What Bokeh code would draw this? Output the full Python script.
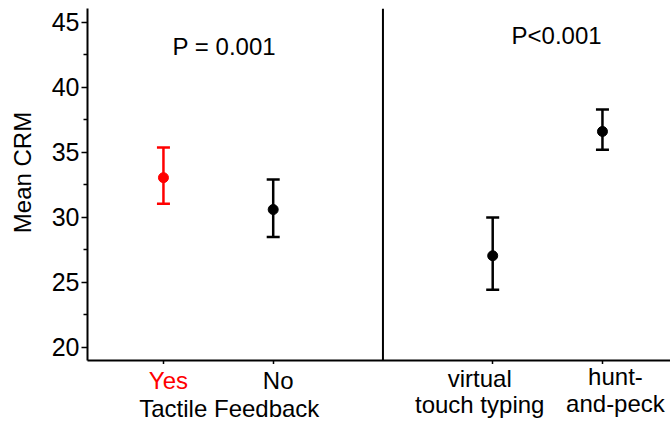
import math
from bokeh.plotting import figure
from bokeh.layouts import row, column
from bokeh.models import (ColumnDataSource, Whisker, TeeHead, Span, Label,
                          FixedTicker, Range1d)
from bokeh.core.properties import value
from bokeh.embed import file_html
from bokeh.resources import INLINE

# ---- data ----
categories = ["Yes", "No", "virtual touch typing", "hunt-and-peck"]
groups = ["Tactile Feedback", "Tactile Feedback", "Typing Style", "Typing Style"]
mean_crm = [33.05, 30.6, 27.05, 36.6]
ci_upper = [35.37, 32.9, 29.98, 38.28]
ci_lower = [31.05, 28.5, 24.44, 35.2]
point_colors = ["#ff0000", "#000000", "#000000", "#000000"]
tick_label_lines = [["Yes"], ["No"], ["virtual", "touch typing"], ["hunt-", "and-peck"]]
group_titles = ["Tactile Feedback", ""]
p_texts = ["P = 0.001", "P<0.001"]
y_ticks = [20, 25, 30, 35, 40, 45]
y_title = "Mean CRM"

FONT = "Liberation Sans"
FS = "24px"
SHIFT = 9  # px correction for the rendered text baseline

# slot positions: one empty slot between groups
group_order = list(dict.fromkeys(groups))
xs = [i + group_order.index(g) for i, g in enumerate(groups)]
separators = [(xs[i] + xs[i + 1]) / 2 for i in range(len(xs) - 1) if groups[i] != groups[i + 1]]

YLAB_W = 40
TOTAL_W = 670
TOTAL_H = 421
MAIN_H = 364
LAB_H = TOTAL_H - MAIN_H

x_range = Range1d(-0.692, 4.62)

p = figure(width=TOTAL_W - YLAB_W, height=MAIN_H,
           x_range=x_range, y_range=Range1d(19.0, 46.05),
           output_backend="svg", toolbar_location=None,
           min_border_left=87 - YLAB_W, min_border_right=0, min_border_top=8, min_border_bottom=4)
p.outline_line_color = None
p.xgrid.visible = False
p.ygrid.visible = False

# y axis
ya = p.yaxis[0]
ya.ticker = FixedTicker(ticks=y_ticks, minor_ticks=[t + 2.5 for t in y_ticks[:-1]])
ya.axis_line_width = 2
ya.axis_line_color = "black"
ya.major_tick_line_width = 1.5
ya.minor_tick_line_width = 1.5
ya.major_tick_out = 6
ya.major_tick_in = 0
ya.minor_tick_out = 4
ya.minor_tick_in = 0
ya.major_label_standoff = 2
ya.major_label_text_font = FONT
ya.major_label_text_font_size = "25px"
ya.major_label_text_color = "black"

# x axis (ticks only; labels drawn in the strip below)
xa = p.xaxis[0]
xa.ticker = FixedTicker(ticks=xs)
xa.major_label_overrides = {x: "" for x in xs}
xa.major_label_text_font_size = "0px"
xa.major_label_standoff = 0
xa.axis_line_width = 2
xa.axis_line_color = "black"
xa.major_tick_line_width = 1.5
xa.major_tick_out = 4
xa.major_tick_in = 0
xa.minor_tick_line_color = None

# separator between groups
for s in separators:
    p.add_layout(Span(location=s, dimension="height", line_color="black", line_width=2))

# error bars
for col in dict.fromkeys(point_colors):
    idx = [i for i, c in enumerate(point_colors) if c == col]
    src = ColumnDataSource(dict(x=[xs[i] for i in idx],
                                upper=[ci_upper[i] for i in idx],
                                lower=[ci_lower[i] for i in idx]))
    w = Whisker(base="x", upper="upper", lower="lower", source=src, dimension="height",
                line_color=col, line_width=2.5,
                upper_head=TeeHead(size=13, line_color=col, line_width=2.5),
                lower_head=TeeHead(size=13, line_color=col, line_width=2.5))
    p.add_layout(w)

src_pts = ColumnDataSource(dict(x=xs, y=mean_crm, color=point_colors))
p.scatter("x", "y", source=src_pts, size=10, color="color")

# p-values
p_y = [42.44, 43.28]
p_dx = [6, 9]
for gi, g in enumerate(group_order):
    gx = [xs[i] for i, gg in enumerate(groups) if gg == g]
    cx = sum(gx) / len(gx)
    p.add_layout(Label(x=cx, y=p_y[gi], x_offset=p_dx[gi], y_offset=SHIFT, text=p_texts[gi],
                       text_font=FONT, text_font_size=FS, text_color="black",
                       text_align="center", text_baseline="alphabetic"))

# ---- strip below: category labels and group title ----
lab = figure(width=TOTAL_W - YLAB_W, height=LAB_H, x_range=x_range,
             y_range=Range1d(0, LAB_H), output_backend="svg", toolbar_location=None,
             x_axis_location=None, y_axis_location=None,
             min_border_left=87 - YLAB_W, min_border_right=0, min_border_top=0, min_border_bottom=0)
lab.outline_line_color = None
lab.grid.visible = False

label_dx = [5, 5, -13, 13]
line_base = [[389], [389], [387, 413], [385, 412]]   # baselines, px from page top
lx, ly, lt, lc, lo = [], [], [], [], []
for i, lines in enumerate(tick_label_lines):
    for j, txt in enumerate(lines):
        lx.append(xs[i]); ly.append(TOTAL_H - line_base[i][j] + SHIFT); lt.append(txt)
        lc.append(point_colors[i]); lo.append(label_dx[i])
lab.text(x=lx, y=ly, text=lt, text_color=lc, x_offset=lo, text_font=value(FONT),
         text_font_size=FS, text_align="center", text_baseline="alphabetic")

title_dx = [11, 0]
for gi, g in enumerate(group_order):
    if group_titles[gi]:
        gx = [xs[i] for i, gg in enumerate(groups) if gg == g]
        cx = sum(gx) / len(gx)
        lab.text(x=[cx], y=[TOTAL_H - 417 + SHIFT], text=[group_titles[gi]], x_offset=title_dx[gi],
                 text_color="black", text_font=value(FONT), text_font_size=FS,
                 text_align="center", text_baseline="alphabetic")

# ---- strip on the left: y-axis title ----
ylab = figure(width=YLAB_W, height=TOTAL_H, x_range=Range1d(0, YLAB_W),
              y_range=Range1d(0, TOTAL_H), output_backend="svg", toolbar_location=None,
              x_axis_location=None, y_axis_location=None,
              min_border_left=0, min_border_right=0, min_border_top=0, min_border_bottom=0)
ylab.outline_line_color = None
ylab.grid.visible = False
ylab.text(x=[29 - 7], y=[TOTAL_H - 172], text=[y_title], angle=math.pi / 2,
          text_color="black", text_font=value(FONT), text_font_size=FS,
          text_align="center", text_baseline="alphabetic")

layout = row(ylab, column(p, lab, spacing=0), spacing=0)
open("out.html", "w").write(file_html(layout, INLINE))
